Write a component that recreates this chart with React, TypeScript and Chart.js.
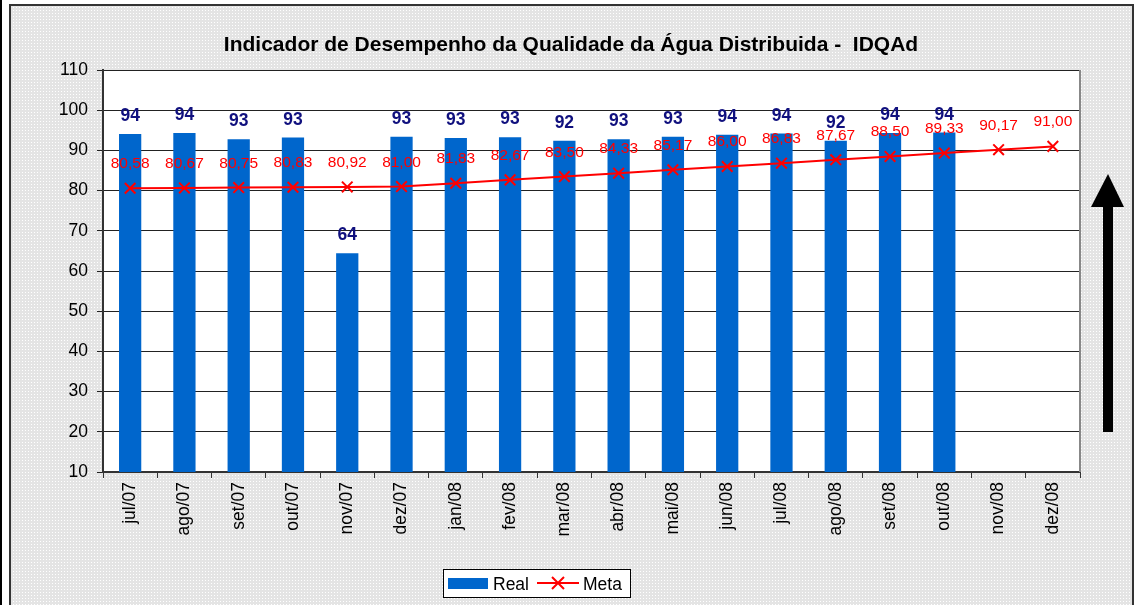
import React, { useEffect, useRef } from "react";
import { Chart, registerables } from "chart.js";

Chart.register(...registerables);

const titleText = "Indicador de Desempenho da Qualidade da Água Distribuida -  IDQAd";
const categories = [
  "jul/07", "ago/07", "set/07", "out/07", "nov/07", "dez/07",
  "jan/08", "fev/08", "mar/08", "abr/08", "mai/08", "jun/08",
  "jul/08", "ago/08", "set/08", "out/08", "nov/08", "dez/08",
];
const realValues = [
  94.1, 94.3, 92.8, 93.2, 64.4, 93.4, 93.1, 93.3, 92.4, 92.8, 93.4, 93.9,
  94.2, 92.4, 94.3, 94.45,
];
const metaValues = [
  80.58, 80.67, 80.75, 80.83, 80.92, 81.0, 81.83, 82.67, 83.5, 84.33, 85.17,
  86.0, 86.83, 87.67, 88.5, 89.33, 90.17, 91.0,
];
const yMin = 10;
const yMax = 110;
const yStep = 10;
const seriesNames = ["Real", "Meta"];

const FONT = "Arial, 'Liberation Sans', sans-serif";
const BAR_COLOR = "#0066CC";
const LINE_COLOR = "#FF0000";
const BAR_LABEL_COLOR = "#10107E";

function makePattern(ctx: CanvasRenderingContext2D) {
  const c = document.createElement("canvas");
  c.width = 3;
  c.height = 3;
  const p = c.getContext("2d")!;
  p.fillStyle = "#e4e4e4";
  p.fillRect(0, 0, 3, 3);
  p.fillStyle = "#ffffff";
  p.fillRect(1, 1, 1, 1);
  return ctx.createPattern(c, "repeat")!;
}

const decorPlugin = {
  id: "decor",
  beforeDraw(chart: any) {
    const ctx: CanvasRenderingContext2D = chart.ctx;
    const { width, height } = chart;
    const ca = chart.chartArea;
    ctx.save();
    ctx.fillStyle = "#ffffff";
    ctx.fillRect(0, 0, width, height);
    ctx.fillStyle = "#000000";
    ctx.fillRect(0, 0, 2, height);
    ctx.fillStyle = makePattern(ctx);
    ctx.fillRect(10, 5, 1123, height);
    ctx.strokeStyle = "#333333";
    ctx.lineWidth = 2;
    ctx.beginPath();
    ctx.moveTo(10, height + 2);
    ctx.lineTo(10, 5);
    ctx.lineTo(1133, 5);
    ctx.lineTo(1133, height + 2);
    ctx.stroke();
    ctx.fillStyle = "#ffffff";
    ctx.fillRect(ca.left, ca.top, ca.right - ca.left, ca.bottom - ca.top);
    ctx.restore();
  },
  afterDatasetsDraw(chart: any) {
    const ctx: CanvasRenderingContext2D = chart.ctx;
    const ca = chart.chartArea;
    ctx.save();
    ctx.strokeStyle = "#888888";
    ctx.lineWidth = 2;
    ctx.beginPath();
    ctx.moveTo(ca.right, ca.top);
    ctx.lineTo(ca.right, ca.bottom);
    ctx.stroke();

    const barMeta = chart.getDatasetMeta(0);
    ctx.font = `bold 17.5px ${FONT}`;
    ctx.fillStyle = BAR_LABEL_COLOR;
    ctx.textAlign = "center";
    ctx.textBaseline = "alphabetic";
    barMeta.data.forEach((el: any, i: number) => {
      const v = realValues[i];
      if (v == null) return;
      ctx.fillText(String(Math.round(v)), el.x, el.y - 13);
    });
    const lineMeta = chart.getDatasetMeta(1);
    ctx.font = `15.5px ${FONT}`;
    ctx.fillStyle = LINE_COLOR;
    lineMeta.data.forEach((el: any, i: number) => {
      const v = metaValues[i];
      ctx.fillText(v.toFixed(2).replace(".", ","), el.x, el.y - 20);
    });
    ctx.restore();
  },
  afterDraw(chart: any) {
    const ctx: CanvasRenderingContext2D = chart.ctx;
    ctx.save();
    ctx.font = `bold 21px ${FONT}`;
    ctx.fillStyle = "#000000";
    ctx.textAlign = "center";
    ctx.textBaseline = "alphabetic";
    ctx.fillText(titleText, 571, 51);

    const lx = 443, ly = 569, lw = 187, lh = 28;
    ctx.fillStyle = "#ffffff";
    ctx.fillRect(lx, ly, lw, lh);
    ctx.strokeStyle = "#000000";
    ctx.lineWidth = 1;
    ctx.strokeRect(lx + 0.5, ly + 0.5, lw, lh);
    ctx.fillStyle = BAR_COLOR;
    ctx.fillRect(448, 578, 40, 11);
    ctx.font = `17.5px ${FONT}`;
    ctx.fillStyle = "#000000";
    ctx.textAlign = "left";
    ctx.fillText(seriesNames[0], 493, 590);
    ctx.strokeStyle = LINE_COLOR;
    ctx.lineWidth = 2;
    ctx.beginPath();
    ctx.moveTo(537, 583);
    ctx.lineTo(579, 583);
    ctx.moveTo(552, 577);
    ctx.lineTo(564, 589);
    ctx.moveTo(564, 577);
    ctx.lineTo(552, 589);
    ctx.stroke();
    ctx.fillStyle = "#000000";
    ctx.fillText(seriesNames[1], 583, 590);

    ctx.fillStyle = "#000000";
    ctx.fillRect(1103, 205, 10, 227);
    ctx.beginPath();
    ctx.moveTo(1108, 174);
    ctx.lineTo(1124, 207);
    ctx.lineTo(1091, 207);
    ctx.closePath();
    ctx.fill();
    ctx.restore();
  },
};

export default function App() {
  const canvasRef = useRef<HTMLCanvasElement | null>(null);

  useEffect(() => {
    const canvas = canvasRef.current;
    if (!canvas) return;
    const chart = new Chart(canvas, {
      type: "bar",
      data: {
        labels: categories,
        datasets: [
          {
            type: "bar",
            label: seriesNames[0],
            data: realValues,
            backgroundColor: BAR_COLOR,
            borderWidth: 0,
            barPercentage: 0.41,
            categoryPercentage: 1,
            order: 2,
          } as any,
          {
            type: "line",
            label: seriesNames[1],
            data: metaValues,
            borderColor: LINE_COLOR,
            borderWidth: 2,
            tension: 0,
            pointStyle: "crossRot",
            pointRadius: 7.5,
            pointBorderWidth: 2,
            pointBorderColor: LINE_COLOR,
            pointBackgroundColor: LINE_COLOR,
            order: 1,
          } as any,
        ],
      },
      options: {
        responsive: false,
        animation: false,
        devicePixelRatio: 1,
        layout: { padding: { left: 0, top: 70, right: 55, bottom: 0 } },
        plugins: {
          legend: { display: false },
          title: { display: false },
          tooltip: { enabled: false },
        },
        scales: {
          x: {
            type: "category",
            offset: true,
            grid: {
              drawOnChartArea: false,
              offset: true,
              tickLength: 6,
              color: "#333333",
              lineWidth: 1,
            },
            border: { color: "#333333", width: 2 },
            ticks: {
              maxRotation: 90,
              minRotation: 90,
              padding: 4,
              color: "#000000",
              font: { family: FONT, size: 17.5 },
              autoSkip: false,
            },
            afterFit(scale: any) {
              scale.height = 133;
            },
          },
          y: {
            min: yMin,
            max: yMax,
            grid: {
              color: "#222222",
              lineWidth: 1,
              tickLength: 6,
            },
            border: { color: "#333333", width: 2 },
            ticks: {
              stepSize: yStep,
              padding: 9,
              color: "#000000",
              font: { family: FONT, size: 17.5 },
            },
            afterFit(scale: any) {
              scale.width = 103;
            },
          },
        },
      },
      plugins: [decorPlugin],
    } as any);
    return () => chart.destroy();
  }, []);

  return (
    <div style={{ position: "absolute", left: 0, top: 0, width: 1135, height: 605 }}>
      <canvas ref={canvasRef} width={1135} height={605} />
    </div>
  );
}
